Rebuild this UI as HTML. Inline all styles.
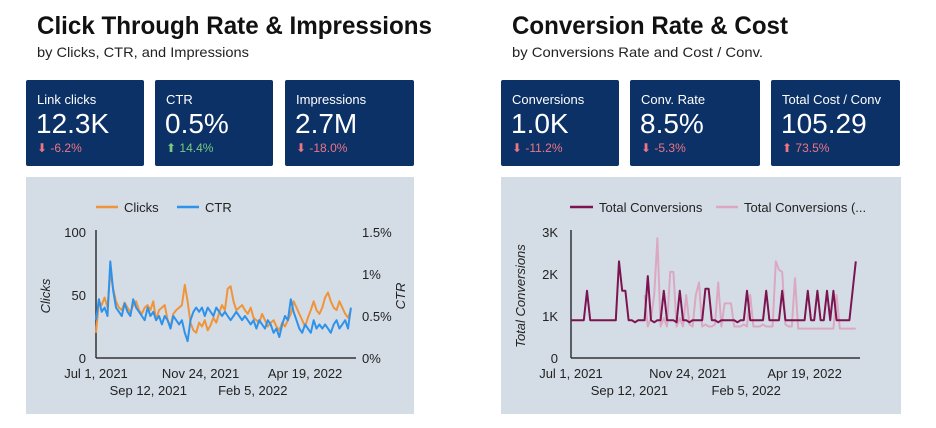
<!DOCTYPE html>
<html><head><meta charset="utf-8"><style>
html,body{margin:0;padding:0;background:#fff;width:936px;height:428px;overflow:hidden}
svg{display:block;font-family:"Liberation Sans",Arial,sans-serif}
</style></head><body>
<svg id="root" width="936" height="428" viewBox="0 0 936 428">
<text x="37" y="34" font-size="25" font-weight="bold" fill="#111" textLength="395" lengthAdjust="spacingAndGlyphs">Click Through Rate &amp; Impressions</text>
<text x="37" y="57" font-size="14" fill="#222" textLength="212" lengthAdjust="spacingAndGlyphs">by Clicks, CTR, and Impressions</text>
<text x="512" y="34" font-size="25" font-weight="bold" fill="#111" textLength="276" lengthAdjust="spacingAndGlyphs">Conversion Rate &amp; Cost</text>
<text x="512" y="57" font-size="14" fill="#222" textLength="251" lengthAdjust="spacingAndGlyphs">by Conversions Rate and Cost / Conv.</text>
<g id="cards"></g>
<rect x="26" y="177" width="388" height="237" fill="#d4dde6"/>
<rect x="501" y="177" width="400" height="237" fill="#d4dde6"/>
<g id="c1"></g><g id="c2"></g>
</svg>
<script>
const NS="http://www.w3.org/2000/svg";
function mk(p,t,a,txt){const e=document.createElementNS(NS,t);for(const k in a)e.setAttribute(k,a[k]);if(txt!=null)e.textContent=txt;p.appendChild(e);return e;}
// KPI cards
const cardLabels=["Link clicks","CTR","Impressions","Conversions","Conv. Rate","Total Cost / Conv"];
const cardValues=["12.3K","0.5%","2.7M","1.0K","8.5%","105.29"];
const cardDeltas=["-6.2%","14.4%","-18.0%","-11.2%","-5.3%","73.5%"];
const cardUp=[false,true,false,false,false,true];
const cardGood=[false,true,false,false,false,false];
const cardX=[26,155,285,501,630,771], cardW=[118,118,129,118,130,129];
const cg=document.getElementById('cards');
for(let i=0;i<6;i++){
  const g=mk(cg,'g',{});
  
  
  mk(g,'rect',{x:cardX[i],y:80,width:cardW[i],height:86,rx:2,fill:'#0b3166'});
  mk(g,'text',{x:cardX[i]+11,y:104,'font-size':13,fill:'#fff'},cardLabels[i]);
  mk(g,'text',{x:cardX[i]+10,y:133,'font-size':28,fill:'#fff'},cardValues[i]);
  const col=cardGood[i]?'#7cc982':'#ef7585';
  mk(g,'text',{x:cardX[i]+11,y:152,'font-size':12,fill:col},(cardUp[i]?'⬆ ':'⬇ ')+cardDeltas[i]);
}
// Chart 1 data
const dateTicks=["Jul 1, 2021","Sep 12, 2021","Nov 24, 2021","Feb 5, 2022","Apr 19, 2022"];
const tickDays=[0,73,146,219,292];
const clicks=[20,45,42,48,40,68,55,45,40,38,44,40,36,42,45,38,35,40,42,38,45,30,38,40,42,30,25,35,38,40,42,58,45,28,22,20,28,25,30,22,26,32,28,36,42,38,55,57,45,38,40,42,38,35,40,32,30,28,35,30,25,28,30,25,22,28,25,30,35,45,40,35,30,25,32,38,45,38,35,40,48,52,45,40,38,45,40,35,32,38];
const ctr=[0.45,0.7,0.55,0.6,0.5,1.15,0.8,0.6,0.55,0.5,0.65,0.55,0.5,0.7,0.6,0.55,0.5,0.45,0.6,0.5,0.55,0.45,0.5,0.4,0.5,0.45,0.35,0.5,0.45,0.4,0.45,0.3,0.2,0.45,0.55,0.6,0.55,0.6,0.5,0.6,0.55,0.5,0.6,0.55,0.5,0.55,0.5,0.45,0.5,0.55,0.5,0.45,0.5,0.45,0.4,0.45,0.35,0.45,0.4,0.35,0.45,0.4,0.3,0.35,0.25,0.4,0.5,0.45,0.7,0.55,0.45,0.35,0.3,0.4,0.35,0.3,0.45,0.35,0.4,0.35,0.4,0.35,0.3,0.4,0.45,0.35,0.4,0.45,0.35,0.6];
const clickTicks=[0,50,100], ctrTicks=[0,0.5,1,1.5], ctrTickLabels=["0%","0.5%","1%","1.5%"];
// Chart 2 data
const conv=[900,900,900,900,900,1600,900,900,900,900,900,900,900,900,900,2300,1600,1600,900,900,850,900,900,900,1950,900,850,900,900,1600,900,900,900,850,1600,900,900,850,900,900,900,900,1650,1650,900,900,850,900,900,900,900,900,850,900,900,1600,900,900,900,900,900,1600,900,900,900,900,1600,900,900,900,900,900,900,900,1600,900,900,1600,900,900,1600,900,1600,900,900,900,900,900,1600,2300];
const convPrev=[null,null,null,null,null,null,null,null,null,null,null,null,null,null,null,null,null,null,null,null,null,null,null,1500,750,950,1500,2850,750,950,750,2050,2050,750,950,750,1500,800,750,1500,1800,750,800,750,750,800,1800,750,1300,1300,1300,750,750,750,800,750,1500,750,750,750,800,750,750,750,2300,2100,2050,800,750,750,1900,700,700,700,700,700,700,700,700,700,700,700,700,1500,700,700,700,700,700,700];
const convTicks=[0,1000,2000,3000], convTickLabels=["0","1K","2K","3K"];

function axisTicks(g,x0,pxPerDay,yLab){
  dateTicks.forEach((t,i)=>{
    const e=mk(g,'text',{x:x0+tickDays[i]*pxPerDay,y:i%2?yLab+17:yLab,'font-size':13,fill:'#222','text-anchor':'middle'},t);
    
    
  });
}
function line(g,vals,step,xf,yf,col,w,name){
  let d='',pen=false;
  vals.forEach((v,i)=>{if(v==null){pen=false;return;}d+=(pen?'L':'M')+xf(i*step).toFixed(1)+' '+yf(v).toFixed(1);pen=true;});
  const p=mk(g,'path',{d:d,fill:'none',stroke:col,'stroke-width':w,'stroke-linejoin':'round'});
  
  
}
// Chart 1
(function(){
  const g=document.getElementById('c1');
  const X0=96,PD=0.716,Y0=358,Y1=232;
  const x=d=>X0+d*PD, yL=v=>Y0-(v/100)*(Y0-Y1), yR=v=>Y0-(v/1.5)*(Y0-Y1);
  mk(g,'line',{x1:X0,y1:Y1-2,x2:X0,y2:Y0,stroke:'#333','stroke-width':1.5});
  mk(g,'line',{x1:X0,y1:Y0,x2:356,y2:Y0,stroke:'#333','stroke-width':1.5});
  clickTicks.forEach(v=>{const e=mk(g,'text',{x:86,y:yL(v)+5,'font-size':13,fill:'#222','text-anchor':'end'},String(v));});
  ctrTicks.forEach((v,i)=>{const e=mk(g,'text',{x:362,y:yR(v)+5,'font-size':13,fill:'#222'},ctrTickLabels[i]);});
  axisTicks(g,X0,PD,378);
  line(g,clicks,4,x,yL,'#f0943a',2,'clicks-line');
  line(g,ctr,4,x,yR,'#2f92ea',2,'ctr-line');
  let e=mk(g,'text',{x:50,y:296,'font-size':13,fill:'#222','font-style':'italic','text-anchor':'middle',transform:'rotate(-90 50 296)'},'Clicks');
  
  e=mk(g,'text',{x:405,y:296,'font-size':13,fill:'#222','font-style':'italic','text-anchor':'middle',transform:'rotate(-90 405 296)'},'CTR');
  
  const lg=mk(g,'g',{});
  mk(lg,'line',{x1:96,y1:207,x2:118,y2:207,stroke:'#f0943a','stroke-width':2.5});
  mk(lg,'text',{x:124,y:212,'font-size':13,fill:'#222'},'Clicks');
  mk(lg,'line',{x1:177,y1:207,x2:199,y2:207,stroke:'#2f92ea','stroke-width':2.5});
  mk(lg,'text',{x:205,y:212,'font-size':13,fill:'#222'},'CTR');
})();
// Chart 2
(function(){
  const g=document.getElementById('c2');
  const X0=571,PD=0.8,Y0=358,Y1=232;
  const x=d=>X0+d*PD, y=v=>Y0-(v/3000)*(Y0-Y1);
  mk(g,'line',{x1:X0,y1:Y1-2,x2:X0,y2:Y0,stroke:'#333','stroke-width':1.5});
  mk(g,'line',{x1:X0,y1:Y0,x2:860,y2:Y0,stroke:'#333','stroke-width':1.5});
  convTicks.forEach((v,i)=>{const e=mk(g,'text',{x:558,y:y(v)+5,'font-size':13,fill:'#222','text-anchor':'end'},convTickLabels[i]);});
  axisTicks(g,X0,PD,378);
  line(g,convPrev,4,x,y,'#dba8c2',2,'conversions-previous-line');
  line(g,conv,4,x,y,'#7b1450',2,'conversions-line');
  let e=mk(g,'text',{x:525,y:296,'font-size':13,fill:'#222','font-style':'italic','text-anchor':'middle',transform:'rotate(-90 525 296)'},'Total Conversions');
  
  const lg=mk(g,'g',{});
  mk(lg,'line',{x1:570,y1:207,x2:593,y2:207,stroke:'#7b1450','stroke-width':2.5});
  mk(lg,'text',{x:599,y:212,'font-size':13,fill:'#222'},'Total Conversions');
  mk(lg,'line',{x1:716,y1:207,x2:738,y2:207,stroke:'#dba8c2','stroke-width':2.5});
  mk(lg,'text',{x:744,y:212,'font-size':13,fill:'#222'},'Total Conversions (...');
})();
</script>
</body></html>
